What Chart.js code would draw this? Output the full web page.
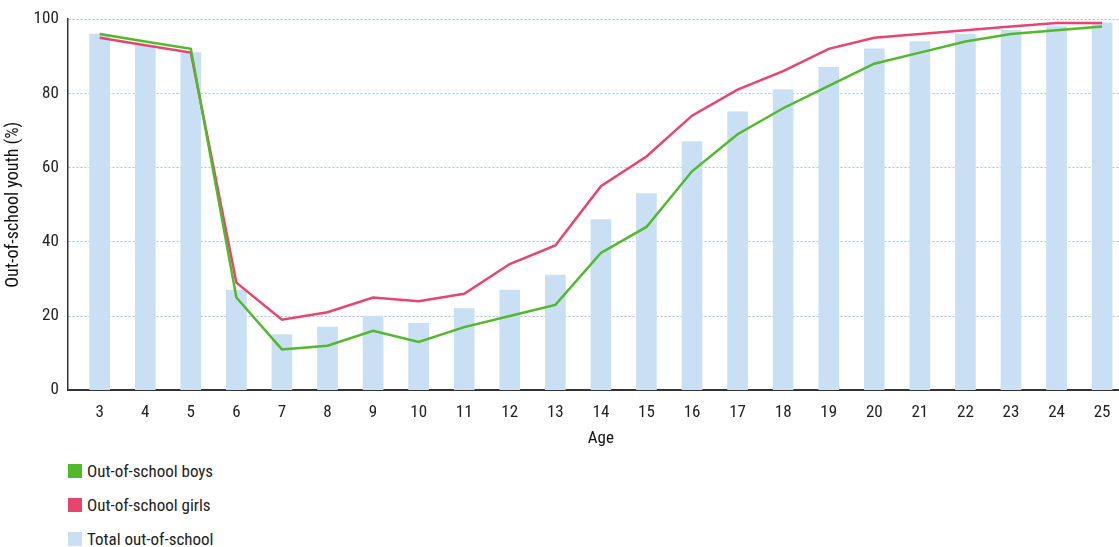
<!DOCTYPE html>
<html>
<head>
<meta charset="utf-8">
<script src="https://cdn.jsdelivr.net/npm/chart.js@4"></script>
<style>
  html, body { margin: 0; padding: 0; background: #fff; overflow: hidden; }
  #wrap { position: relative; width: 1140px; height: 449px; }
  #legend { position: absolute; left: 68px; top: 454px; font-family: "Roboto Condensed", "Roboto", sans-serif; font-stretch: condensed; font-size: 17px; color: #222; }
  #legend div { height: 34px; display: flex; align-items: center; }
  #legend span.box { display: inline-block; width: 14px; height: 14px; margin-right: 5px; }
</style>
</head>
<body>
<div id="wrap"><canvas id="chart"></canvas></div>
<div id="legend"></div>
<script>
// ages on the x axis
var ages = [3, 4, 5, 6, 7, 8, 9, 10, 11, 12, 13, 14, 15, 16, 17, 18, 19, 20, 21, 22, 23, 24, 25];
var boys = [96, 94, 92, 25, 11, 12, 16, 13, 17, 20, 23, 37, 44, 59, 69, 76, 82, 88, 91, 94, 96, 97, 98];
var girls = [95, 93, 91, 29, 19, 21, 25, 24, 26, 34, 39, 55, 63, 74, 81, 86, 92, 95, 96, 97, 98, 99, 99];
var total = [96, 93, 91, 27, 15, 17, 20, 18, 22, 27, 31, 46, 53, 67, 75, 81, 87, 92, 94, 96, 97, 98, 99];
var yTicks = [0, 20, 40, 60, 80, 100];

var FONT = "'Roboto Condensed', 'Roboto', sans-serif";

function pts(arr) {
    return ages.map(function (a, i) { return { x: a, y: arr[i] }; });
}

var ctx = document.getElementById('chart').getContext('2d');
var chart = new Chart(ctx, {
    type: 'bar',
    data: {
        datasets: [{
            type: 'line',
            label: 'Out-of-school boys',
            data: pts(boys),
            borderColor: '#52b82c',
            backgroundColor: '#52b82c',
            borderWidth: 2.5,
            pointRadius: 0,
            tension: 0,
            order: 0
        }, {
            type: 'line',
            label: 'Out-of-school girls',
            data: pts(girls),
            borderColor: '#e8456e',
            backgroundColor: '#e8456e',
            borderWidth: 2.5,
            pointRadius: 0,
            tension: 0,
            order: 1
        }, {
            type: 'bar',
            label: 'Total out-of-school',
            data: pts(total),
            backgroundColor: '#c9dff4',
            barThickness: 20,
            order: 2
        }]
    },
    options: {
        responsive: true,
        maintainAspectRatio: false,
        animation: false,
        layout: { padding: { top: 12, right: 6, left: 0, bottom: 0 } },
        plugins: {
            legend: { display: false },
            tooltip: { enabled: false }
        },
        scales: {
            x: {
                type: 'linear',
                offset: false,
                min: 2.3,
                max: 25.7,
                afterBuildTicks: function (s) { s.ticks = ages.map(function (v) { return { value: v }; }); },
                grid: { display: false },
                border: { display: true, color: '#333', width: 2 },
                ticks: { color: '#222', font: { family: FONT, size: 17, style: 'condensed' }, padding: 4, autoSkip: false, maxRotation: 0 },
                title: { display: true, text: 'Age', color: '#111', font: { family: FONT, size: 17, style: 'condensed' }, padding: { top: 2, bottom: 0 } }
            },
            y: {
                min: 0,
                max: 100,
                afterBuildTicks: function (s) { s.ticks = yTicks.map(function (v) { return { value: v }; }); },
                grid: { color: '#a3c6de', lineWidth: 1, drawTicks: false },
                border: { display: true, color: '#333', width: 1.5, dash: [2, 2] },
                ticks: { color: '#222', font: { family: FONT, size: 17, style: 'condensed' }, padding: 9 },
                title: { display: true, text: 'Out-of-school youth (%)', color: '#111', font: { family: FONT, size: 18, style: 'condensed' }, padding: { top: 3, bottom: 0 } }
            }
        }
    }
});

// legend built from the chart datasets, stacked vertically
var lg = document.getElementById('legend');
chart.data.datasets.forEach(function (d) {
    var row = document.createElement('div');
    var box = document.createElement('span');
    box.className = 'box';
    box.style.background = d.backgroundColor;
    row.appendChild(box);
    row.appendChild(document.createTextNode(d.label));
    lg.appendChild(row);
});
</script>
</body>
</html>
